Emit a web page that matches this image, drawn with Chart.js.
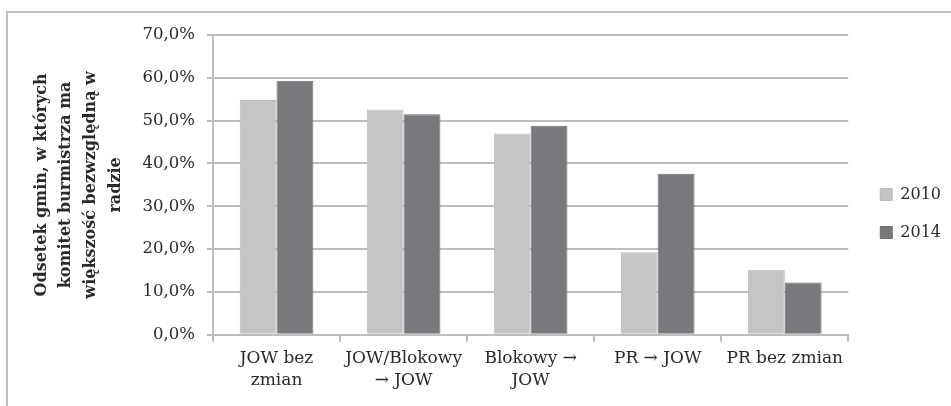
<!DOCTYPE html>
<html>
<head>
<meta charset="utf-8">
<script src="https://cdn.jsdelivr.net/npm/chart.js@4.4.1/dist/chart.umd.min.js"></script>
<style>
  html, body { margin: 0; padding: 0; background: #fff; }
  #wrap { position: relative; width: 951px; height: 406px; }
</style>
</head>
<body>
<div id="wrap"><canvas id="graphCanvas" width="951" height="406"></canvas></div>
<script>
var categories = [
  ['JOW bez', 'zmian'],
  ['JOW/Blokowy', '\u2192 JOW'],
  ['Blokowy \u2192', 'JOW'],
  'PR \u2192 JOW',
  'PR bez zmian'
];
var years = ['2010', '2014'];
var values2010 = [54.8, 52.6, 47.0, 19.3, 15.2];
var values2014 = [59.3, 51.5, 48.8, 37.6, 12.2];
var yTicks = [0, 10, 20, 30, 40, 50, 60, 70];
var yTitle = ['Odsetek gmin, w których', 'komitet burmistrza ma', 'większość bezwzględną w', 'radzie'];

var serif = "'DejaVu Serif', serif";
var gridColor = '#bdbdbd';
var textColor = '#2a2a2a';

// outer frame of the figure (left + top edges only are visible)
var framePlugin = {
  id: 'frame',
  beforeDraw: function(chart) {
    var ctx = chart.ctx;
    ctx.save();
    ctx.strokeStyle = '#bfbfbf';
    ctx.lineWidth = 2;
    ctx.beginPath();
    ctx.moveTo(7, 406);
    ctx.lineTo(7, 12);
    ctx.lineTo(951, 12);
    ctx.stroke();
    ctx.restore();
  },
  afterLayout: function(chart) {
    // nudge legend a bit right of the plot, as in the source figure
    chart.legend.left += 10;
    chart.legend.right += 10;
    chart.legend.top -= 3;
    chart.legend.bottom -= 3;
  }
};

var chartdata = {
  labels: categories,
  datasets: [{
    label: years[0],
    backgroundColor: '#c4c5c7',
    borderColor: '#b9babc',
    borderWidth: 1,
    data: values2010
  }, {
    label: years[1],
    backgroundColor: '#78797c',
    borderColor: '#6e6f72',
    borderWidth: 1,
    data: values2014
  }]
};

var graphTarget = document.getElementById('graphCanvas');

var barGraph = new Chart(graphTarget, {
  type: 'bar',
  data: chartdata,
  plugins: [framePlugin],
  options: {
    responsive: false,
    animation: false,
    layout: { padding: { left: 7, top: 35, right: 10, bottom: 8 } },
    datasets: { bar: { categoryPercentage: 0.58, barPercentage: 1.0 } },
    plugins: {
      tooltip: { enabled: false },
      legend: {
        position: 'right',
        labels: {
          boxWidth: 12,
          boxHeight: 12,
          padding: 22,
          color: textColor,
          font: { family: serif, size: 16 }
        }
      }
    },
    scales: {
      x: {
        grid: {
          offset: true,
          drawOnChartArea: false,
          drawTicks: true,
          tickLength: 7,
          color: gridColor,
          lineWidth: 2
        },
        border: { color: gridColor, width: 2 },
        ticks: {
          color: textColor,
          font: { family: serif, size: 17, lineHeight: 1.3 },
          maxRotation: 0,
          autoSkip: false,
          padding: 6
        }
      },
      y: {
        min: 0,
        max: 70,
        afterBuildTicks: function(scale) {
          scale.ticks = yTicks.map(function(v) { return { value: v }; });
        },
        afterFit: function(scale) {
          scale.width = 213 - 7;
        },
        grid: {
          color: gridColor,
          lineWidth: 2,
          tickLength: 6
        },
        border: { color: gridColor, width: 2 },
        ticks: {
          color: textColor,
          padding: 12,
          font: { family: serif, size: 16.5 },
          callback: function(v) { return v.toFixed(1).replace('.', ',') + '%'; }
        },
        title: {
          display: true,
          text: yTitle,
          color: textColor,
          padding: { top: 22, bottom: 0 },
          font: { family: serif, size: 16, weight: 'bold', lineHeight: 1.55 }
        }
      }
    }
  }
});
</script>
</body>
</html>
